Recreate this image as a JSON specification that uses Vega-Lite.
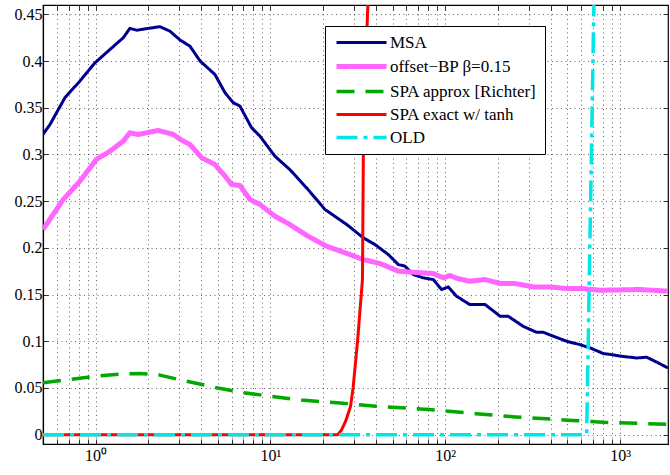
{
  "$schema": "https://vega.github.io/schema/vega-lite/v6.json",
  "width": 625,
  "height": 439,
  "autosize": {"type": "none"},
  "padding": {"left": 43, "top": 5, "right": 2, "bottom": 31},
  "background": "white",
  "config": {
    "font": "Liberation Serif",
    "view": {"stroke": "black", "strokeWidth": 1.2},
    "axis": {
      "domainColor": "black", "domainWidth": 1.2,
      "tickColor": "black", "tickSize": -5, "tickWidth": 0.8,
      "labelColor": "black", "labelFont": "Liberation Serif", "labelFontSize": 16,
      "gridColor": "#000000", "gridDash": [1, 3.5], "gridOpacity": 0.75, "gridWidth": 0.8
    },
    "legend": {
      "title": null, "orient": "none", "legendX": 282, "legendY": 21,
      "symbolType": "M0,0H10", "symbolSize": 100, "symbolOffset": -5,
      "labelFont": "Liberation Serif", "labelFontSize": 17, "labelColor": "black",
      "labelOffset": 45, "padding": 8, "rowPadding": 5,
      "strokeColor": "black", "fillColor": "white"
    }
  },
  "data": {"values": [
    {"s": "MSA", "x": 0.5, "y": 0.3215},
    {"s": "MSA", "x": 0.548, "y": 0.332},
    {"s": "MSA", "x": 0.667, "y": 0.3607},
    {"s": "MSA", "x": 0.813, "y": 0.3786},
    {"s": "MSA", "x": 0.99, "y": 0.398},
    {"s": "MSA", "x": 1.18, "y": 0.4107},
    {"s": "MSA", "x": 1.44, "y": 0.425},
    {"s": "MSA", "x": 1.57, "y": 0.435},
    {"s": "MSA", "x": 1.72, "y": 0.433},
    {"s": "MSA", "x": 1.96, "y": 0.4347},
    {"s": "MSA", "x": 2.33, "y": 0.4368},
    {"s": "MSA", "x": 2.66, "y": 0.432},
    {"s": "MSA", "x": 3.04, "y": 0.4225},
    {"s": "MSA", "x": 3.46, "y": 0.416},
    {"s": "MSA", "x": 3.96, "y": 0.4},
    {"s": "MSA", "x": 4.81, "y": 0.3857},
    {"s": "MSA", "x": 5.5, "y": 0.366},
    {"s": "MSA", "x": 6.13, "y": 0.3554},
    {"s": "MSA", "x": 6.69, "y": 0.3518},
    {"s": "MSA", "x": 7.8, "y": 0.3286},
    {"s": "MSA", "x": 8.71, "y": 0.3196},
    {"s": "MSA", "x": 10.6, "y": 0.2982},
    {"s": "MSA", "x": 12.9, "y": 0.2839},
    {"s": "MSA", "x": 16.4, "y": 0.2625},
    {"s": "MSA", "x": 20.5, "y": 0.2411},
    {"s": "MSA", "x": 27.3, "y": 0.225},
    {"s": "MSA", "x": 34.0, "y": 0.2107},
    {"s": "MSA", "x": 39.6, "y": 0.2036},
    {"s": "MSA", "x": 47.2, "y": 0.1929},
    {"s": "MSA", "x": 53.9, "y": 0.1821},
    {"s": "MSA", "x": 58.8, "y": 0.1804},
    {"s": "MSA", "x": 65.6, "y": 0.1714},
    {"s": "MSA", "x": 74.8, "y": 0.1679},
    {"s": "MSA", "x": 85.3, "y": 0.1661},
    {"s": "MSA", "x": 95.3, "y": 0.1554},
    {"s": "MSA", "x": 104, "y": 0.1582},
    {"s": "MSA", "x": 116, "y": 0.1482},
    {"s": "MSA", "x": 138, "y": 0.1393},
    {"s": "MSA", "x": 169, "y": 0.1393},
    {"s": "MSA", "x": 206, "y": 0.1268},
    {"s": "MSA", "x": 229, "y": 0.1268},
    {"s": "MSA", "x": 279, "y": 0.116},
    {"s": "MSA", "x": 333, "y": 0.1096},
    {"s": "MSA", "x": 364, "y": 0.1096},
    {"s": "MSA", "x": 415, "y": 0.1054},
    {"s": "MSA", "x": 495, "y": 0.1},
    {"s": "MSA", "x": 589, "y": 0.0964},
    {"s": "MSA", "x": 673, "y": 0.0929},
    {"s": "MSA", "x": 803, "y": 0.0868},
    {"s": "MSA", "x": 890, "y": 0.0857},
    {"s": "MSA", "x": 1021, "y": 0.0839},
    {"s": "MSA", "x": 1245, "y": 0.0821},
    {"s": "MSA", "x": 1420, "y": 0.0829},
    {"s": "MSA", "x": 1655, "y": 0.0768},
    {"s": "MSA", "x": 1880, "y": 0.0714},

    {"s": "offset−BP β=0.15", "x": 0.5, "y": 0.2197},
    {"s": "offset−BP β=0.15", "x": 0.653, "y": 0.2518},
    {"s": "offset−BP β=0.15", "x": 0.813, "y": 0.2714},
    {"s": "offset−BP β=0.15", "x": 1.01, "y": 0.2947},
    {"s": "offset−BP β=0.15", "x": 1.21, "y": 0.3036},
    {"s": "offset−BP β=0.15", "x": 1.44, "y": 0.3143},
    {"s": "offset−BP β=0.15", "x": 1.57, "y": 0.3232},
    {"s": "offset−BP β=0.15", "x": 1.75, "y": 0.3214},
    {"s": "offset−BP β=0.15", "x": 2.28, "y": 0.3257},
    {"s": "offset−BP β=0.15", "x": 2.78, "y": 0.3214},
    {"s": "offset−BP β=0.15", "x": 3.1, "y": 0.3154},
    {"s": "offset−BP β=0.15", "x": 3.46, "y": 0.3107},
    {"s": "offset−BP β=0.15", "x": 4.04, "y": 0.2965},
    {"s": "offset−BP β=0.15", "x": 4.81, "y": 0.2893},
    {"s": "offset−BP β=0.15", "x": 5.5, "y": 0.2768},
    {"s": "offset−BP β=0.15", "x": 5.99, "y": 0.2679},
    {"s": "offset−BP β=0.15", "x": 6.69, "y": 0.2668},
    {"s": "offset−BP β=0.15", "x": 7.63, "y": 0.2518},
    {"s": "offset−BP β=0.15", "x": 8.71, "y": 0.2464},
    {"s": "offset−BP β=0.15", "x": 10.6, "y": 0.2339},
    {"s": "offset−BP β=0.15", "x": 12.9, "y": 0.225},
    {"s": "offset−BP β=0.15", "x": 16.4, "y": 0.2125},
    {"s": "offset−BP β=0.15", "x": 20.9, "y": 0.2018},
    {"s": "offset−BP β=0.15", "x": 26.1, "y": 0.1954},
    {"s": "offset−BP β=0.15", "x": 34, "y": 0.1875},
    {"s": "offset−BP β=0.15", "x": 42.4, "y": 0.1832},
    {"s": "offset−BP β=0.15", "x": 53.9, "y": 0.175},
    {"s": "offset−BP β=0.15", "x": 65.6, "y": 0.1739},
    {"s": "offset−BP β=0.15", "x": 85.3, "y": 0.1725},
    {"s": "offset−BP β=0.15", "x": 97.6, "y": 0.1679},
    {"s": "offset−BP β=0.15", "x": 106, "y": 0.1704},
    {"s": "offset−BP β=0.15", "x": 118, "y": 0.1671},
    {"s": "offset−BP β=0.15", "x": 138, "y": 0.1643},
    {"s": "offset−BP β=0.15", "x": 169, "y": 0.1661},
    {"s": "offset−BP β=0.15", "x": 206, "y": 0.1618},
    {"s": "offset−BP β=0.15", "x": 251, "y": 0.1618},
    {"s": "offset−BP β=0.15", "x": 319, "y": 0.1582},
    {"s": "offset−BP β=0.15", "x": 394, "y": 0.1582},
    {"s": "offset−BP β=0.15", "x": 495, "y": 0.1564},
    {"s": "offset−BP β=0.15", "x": 612, "y": 0.1564},
    {"s": "offset−BP β=0.15", "x": 768, "y": 0.1546},
    {"s": "offset−BP β=0.15", "x": 1000, "y": 0.155},
    {"s": "offset−BP β=0.15", "x": 1300, "y": 0.1554},
    {"s": "offset−BP β=0.15", "x": 1880, "y": 0.1536},

    {"s": "SPA approx [Richter]", "x": 0.5, "y": 0.0555},
    {"s": "SPA approx [Richter]", "x": 0.7, "y": 0.059},
    {"s": "SPA approx [Richter]", "x": 1.0, "y": 0.0625},
    {"s": "SPA approx [Richter]", "x": 1.4, "y": 0.065},
    {"s": "SPA approx [Richter]", "x": 1.8, "y": 0.0655},
    {"s": "SPA approx [Richter]", "x": 2.3, "y": 0.064},
    {"s": "SPA approx [Richter]", "x": 3.0, "y": 0.059},
    {"s": "SPA approx [Richter]", "x": 4.0, "y": 0.054},
    {"s": "SPA approx [Richter]", "x": 5.0, "y": 0.05},
    {"s": "SPA approx [Richter]", "x": 7.0, "y": 0.045},
    {"s": "SPA approx [Richter]", "x": 10, "y": 0.041},
    {"s": "SPA approx [Richter]", "x": 15, "y": 0.037},
    {"s": "SPA approx [Richter]", "x": 25, "y": 0.034},
    {"s": "SPA approx [Richter]", "x": 40, "y": 0.0305},
    {"s": "SPA approx [Richter]", "x": 80, "y": 0.027},
    {"s": "SPA approx [Richter]", "x": 150, "y": 0.0225},
    {"s": "SPA approx [Richter]", "x": 250, "y": 0.019},
    {"s": "SPA approx [Richter]", "x": 500, "y": 0.0155},
    {"s": "SPA approx [Richter]", "x": 800, "y": 0.0133},
    {"s": "SPA approx [Richter]", "x": 1300, "y": 0.012},
    {"s": "SPA approx [Richter]", "x": 1880, "y": 0.011},

    {"s": "SPA exact w/ tanh", "x": 0.5, "y": 0},
    {"s": "SPA exact w/ tanh", "x": 24.3, "y": 0},
    {"s": "SPA exact w/ tanh", "x": 25.5, "y": 0.005},
    {"s": "SPA exact w/ tanh", "x": 27, "y": 0.015},
    {"s": "SPA exact w/ tanh", "x": 28.7, "y": 0.03},
    {"s": "SPA exact w/ tanh", "x": 29.7, "y": 0.05},
    {"s": "SPA exact w/ tanh", "x": 31.5, "y": 0.1},
    {"s": "SPA exact w/ tanh", "x": 33.6, "y": 0.166},
    {"s": "SPA exact w/ tanh", "x": 34.0, "y": 0.3},
    {"s": "SPA exact w/ tanh", "x": 35.9, "y": 0.45},
    {"s": "SPA exact w/ tanh", "x": 36.3, "y": 0.47},

    {"s": "OLD", "x": 0.5, "y": 0},
    {"s": "OLD", "x": 644, "y": 0},
    {"s": "OLD", "x": 710, "y": 0.47}
  ]},
  "layer": [
    {
      "mark": {"type": "line", "clip": true, "strokeCap": "butt", "strokeJoin": "round"},
      "encoding": {
        "x": {
          "field": "x", "type": "quantitative",
          "scale": {"type": "log", "domain": [0.5, 1880], "nice": false},
          "axis": {
            "title": null, "orient": "bottom",
            "values": [0.5, 0.6, 0.7, 0.8, 0.9, 1, 2, 3, 4, 5, 6, 7, 8, 9, 10, 20, 30, 40, 50, 60, 70, 80, 90, 100, 200, 300, 400, 500, 600, 700, 800, 900, 1000],
            "labelExpr": "datum.value == 1 ? '10⁰' : datum.value == 10 ? '10¹' : datum.value == 100 ? '10²' : datum.value == 1000 ? '10³' : ''",
            "labelPadding": 8
          }
        },
        "y": {
          "field": "y", "type": "quantitative",
          "scale": {"domain": [-0.01, 0.46], "nice": false, "zero": false},
          "axis": {
            "title": null, "orient": "left",
            "values": [0, 0.05, 0.1, 0.15, 0.2, 0.25, 0.3, 0.35, 0.4, 0.45],
            "format": "~g",
            "labelPadding": 6
          }
        },
        "color": {
          "field": "s", "type": "nominal",
          "scale": {
            "domain": ["MSA", "offset−BP β=0.15", "SPA approx [Richter]", "SPA exact w/ tanh", "OLD"],
            "range": ["#00008f", "#ff66ff", "#00a800", "#ff0000", "#00e5e5"]
          },
          "legend": {"title": null}
        },
        "strokeDash": {
          "field": "s", "type": "nominal",
          "scale": {
            "domain": ["MSA", "offset−BP β=0.15", "SPA approx [Richter]", "SPA exact w/ tanh", "OLD"],
            "range": [[1, 0], [1, 0], [18, 11], [1, 0], [21, 6, 4, 6]]
          },
          "legend": {"title": null}
        },
        "strokeWidth": {
          "field": "s", "type": "nominal",
          "scale": {
            "type": "ordinal",
            "domain": ["MSA", "offset−BP β=0.15", "SPA approx [Richter]", "SPA exact w/ tanh", "OLD"],
            "range": [3, 5, 3.5, 3, 3.5]
          },
          "legend": {"title": null}
        }
      }
    },
    {
      "mark": {"type": "point", "opacity": 0},
      "encoding": {
        "x": {
          "field": "x", "type": "quantitative",
          "axis": {
            "title": null, "orient": "top", "labels": false, "grid": false, "domain": false,
            "values": [0.5, 0.6, 0.7, 0.8, 0.9, 1, 2, 3, 4, 5, 6, 7, 8, 9, 10, 20, 30, 40, 50, 60, 70, 80, 90, 100, 200, 300, 400, 500, 600, 700, 800, 900, 1000]
          }
        },
        "y": {
          "field": "y", "type": "quantitative",
          "axis": {
            "title": null, "orient": "right", "labels": false, "grid": false, "domain": false,
            "values": [0, 0.05, 0.1, 0.15, 0.2, 0.25, 0.3, 0.35, 0.4, 0.45]
          }
        }
      }
    }
  ],
  "resolve": {"axis": {"x": "independent", "y": "independent"}}
}
